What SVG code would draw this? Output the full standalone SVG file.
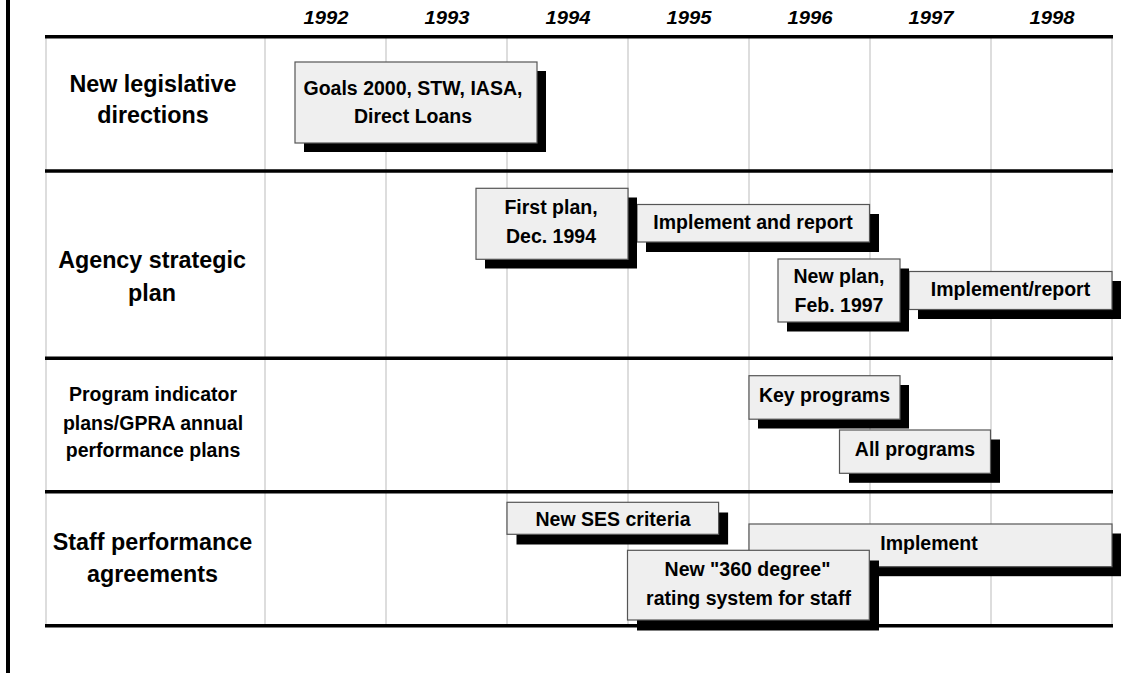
<svg xmlns="http://www.w3.org/2000/svg" width="1141" height="673" viewBox="0 0 1141 673">
<style>
  .bg { fill: #ffffff; }
  .frame { stroke: #000000; stroke-width: 4; fill: none; }
  .grid { stroke: #d2d2d2; stroke-width: 1.5; fill: none; }
  .rule { stroke: #000000; stroke-width: 3.4; fill: none; }
  .year { font-family: "Liberation Sans", Arial, sans-serif; font-weight: bold; font-style: italic; font-size: 17.5px; fill: #000; text-anchor: middle; }
  .row { font-family: "Liberation Sans", Arial, sans-serif; font-weight: bold; font-size: 23.3px; fill: #000; text-anchor: middle; }
  .rowsm { font-family: "Liberation Sans", Arial, sans-serif; font-weight: bold; font-size: 19.5px; fill: #000; text-anchor: middle; }
  .shadow { fill: #000000; }
  .box { fill: #efefef; stroke: #555555; stroke-width: 1.2; }
  .lbl { font-family: "Liberation Sans", Arial, sans-serif; font-weight: bold; font-size: 19.5px; fill: #000; text-anchor: middle; }
</style>
<rect class="bg" x="0" y="0" width="1141" height="673"/>
<line class="frame" x1="8" y1="0" x2="8" y2="673"/>

<g id="grid">
  <line class="grid" x1="46" y1="37" x2="46" y2="626"/>
  <line class="grid" x1="265" y1="37" x2="265" y2="626"/>
  <line class="grid" x1="386" y1="37" x2="386" y2="626"/>
  <line class="grid" x1="507" y1="37" x2="507" y2="626"/>
  <line class="grid" x1="628" y1="37" x2="628" y2="626"/>
  <line class="grid" x1="749" y1="37" x2="749" y2="626"/>
  <line class="grid" x1="870" y1="37" x2="870" y2="626"/>
  <line class="grid" x1="991" y1="37" x2="991" y2="626"/>
  <line class="grid" x1="1112" y1="37" x2="1112" y2="626"/>
  <line class="rule" x1="45" y1="36.8" x2="1113" y2="36.8"/>
  <line class="rule" x1="45" y1="171" x2="1113" y2="171"/>
  <line class="rule" x1="45" y1="358.3" x2="1113" y2="358.3"/>
  <line class="rule" x1="45" y1="491.8" x2="1113" y2="491.8"/>
  <line class="rule" x1="45" y1="625.7" x2="1113" y2="625.7"/>
</g>

<g id="years">
  <text class="year" x="326" y="24" textLength="45" lengthAdjust="spacingAndGlyphs">1992</text>
  <text class="year" x="447" y="24" textLength="45" lengthAdjust="spacingAndGlyphs">1993</text>
  <text class="year" x="568" y="24" textLength="45" lengthAdjust="spacingAndGlyphs">1994</text>
  <text class="year" x="689" y="24" textLength="45" lengthAdjust="spacingAndGlyphs">1995</text>
  <text class="year" x="810" y="24" textLength="45" lengthAdjust="spacingAndGlyphs">1996</text>
  <text class="year" x="931" y="24" textLength="45" lengthAdjust="spacingAndGlyphs">1997</text>
  <text class="year" x="1052" y="24" textLength="45" lengthAdjust="spacingAndGlyphs">1998</text>
</g>

<g id="row-legislative">
  <text class="row" x="153" y="91.7">New legislative</text>
  <text class="row" x="153" y="123.3">directions</text>
</g>
<g id="row-strategic">
  <text class="row" x="152" y="268.3">Agency strategic</text>
  <text class="row" x="152" y="300.7">plan</text>
</g>
<g id="row-indicator">
  <text class="rowsm" x="153" y="401">Program indicator</text>
  <text class="rowsm" x="153" y="429.5">plans/GPRA annual</text>
  <text class="rowsm" x="153" y="457">performance plans</text>
</g>
<g id="row-staff">
  <text class="row" x="152.5" y="550">Staff performance</text>
  <text class="row" x="152.5" y="581.7">agreements</text>
</g>

<g id="connectors"></g>

<g id="goals2000">
  <rect class="shadow" x="304" y="71" width="242" height="81"/>
  <rect class="box" x="295" y="62" width="242" height="81"/>
  <text class="lbl" x="413" y="95">Goals 2000, STW, IASA,</text>
  <text class="lbl" x="413" y="123.3">Direct Loans</text>
</g>

<g id="implement-and-report">
  <rect class="shadow" x="646" y="214" width="233" height="38"/>
  <rect class="box" x="637" y="204.5" width="232.5" height="37.5"/>
  <text class="lbl" x="753" y="229">Implement and report</text>
</g>

<g id="first-plan">
  <rect class="shadow" x="485" y="197.5" width="152" height="71"/>
  <rect class="box" x="476" y="188.3" width="152" height="71"/>
  <text class="lbl" x="551" y="214.3">First plan,</text>
  <text class="lbl" x="551" y="242.7">Dec. 1994</text>
</g>

<g id="implement-report-2">
  <rect class="shadow" x="918" y="281" width="203" height="38"/>
  <rect class="box" x="909" y="271.5" width="203" height="38"/>
  <text class="lbl" x="1010.5" y="295.5">Implement/report</text>
</g>

<g id="new-plan">
  <rect class="shadow" x="787" y="268.5" width="122" height="63"/>
  <rect class="box" x="778" y="259" width="122" height="63"/>
  <text class="lbl" x="839" y="283.3">New plan,</text>
  <text class="lbl" x="839" y="311.7">Feb. 1997</text>
</g>

<g id="key-programs">
  <rect class="shadow" x="758" y="385" width="151" height="43.5"/>
  <rect class="box" x="749" y="375.7" width="151" height="43.5"/>
  <text class="lbl" x="824.5" y="402">Key programs</text>
</g>

<g id="all-programs">
  <rect class="shadow" x="849" y="439.5" width="151" height="43.3"/>
  <rect class="box" x="839.5" y="430" width="151" height="43.3"/>
  <text class="lbl" x="915" y="456.3">All programs</text>
</g>

<g id="new-ses-criteria">
  <rect class="shadow" x="516.5" y="512.5" width="211.6" height="32"/>
  <rect class="box" x="507" y="502.3" width="211.6" height="32"/>
  <text class="lbl" x="613" y="526">New SES criteria</text>
</g>

<g id="implement">
  <rect class="shadow" x="758" y="533.5" width="363" height="42.7"/>
  <rect class="box" x="749" y="524" width="363" height="42.7"/>
  <text class="lbl" x="929" y="550">Implement</text>
</g>

<g id="rating-360">
  <rect class="shadow" x="637" y="560.5" width="242" height="70"/>
  <rect class="box" x="627.5" y="550.3" width="241.8" height="69.7"/>
  <text class="lbl" x="747.5" y="575.5">New "360 degree"</text>
  <text class="lbl" x="748.5" y="605">rating system for staff</text>
</g>
</svg>
